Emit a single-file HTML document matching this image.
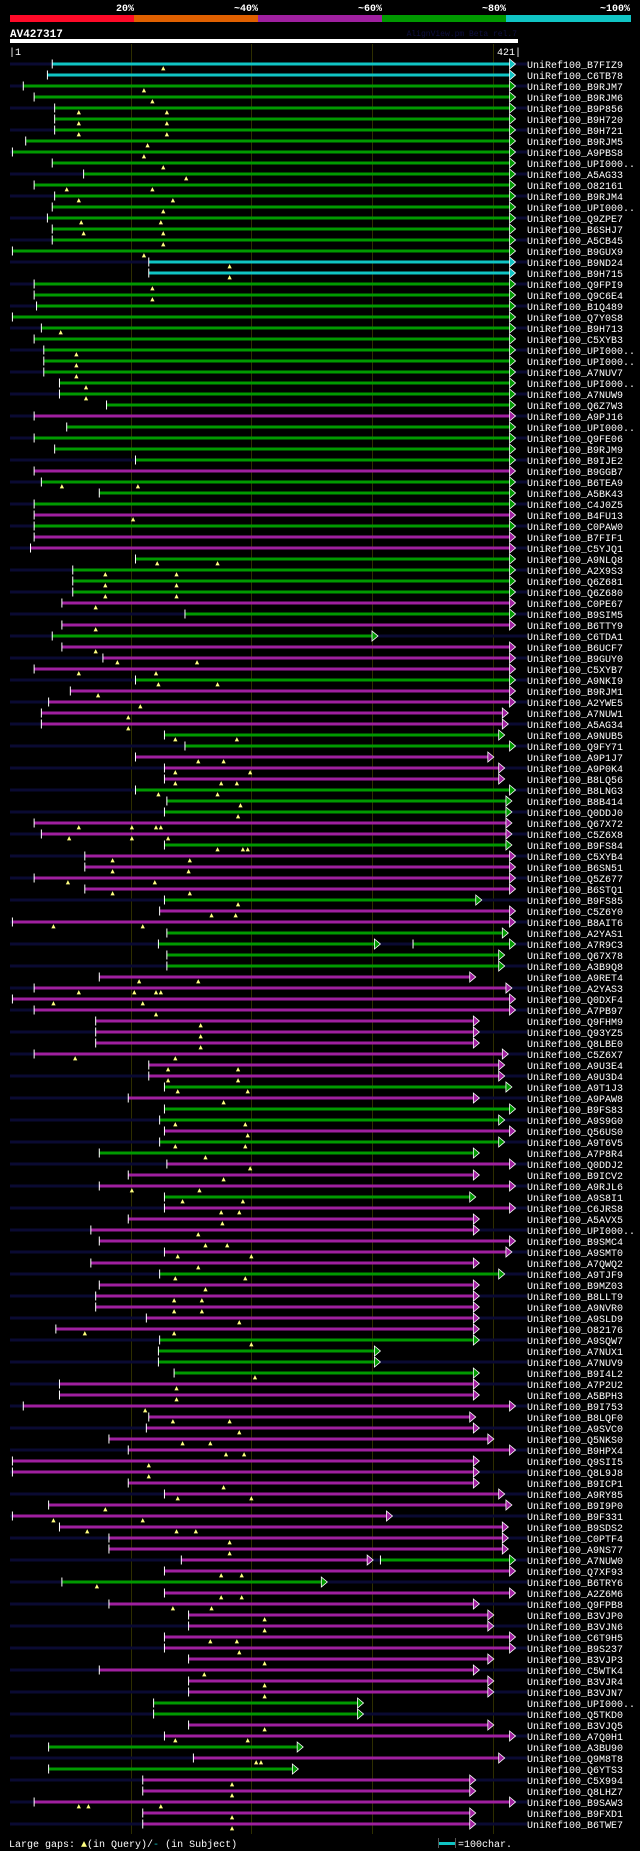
<!DOCTYPE html>
<html><head><meta charset="utf-8">
<style>
html,body{margin:0;padding:0;background:#000;}
body{width:640px;height:1851px;overflow:hidden;}
svg{display:block;font-family:"Liberation Mono","DejaVu Sans Mono",monospace;}
</style></head>
<body>
<svg id="chart" width="640" height="1851" viewBox="0 0 640 1851" xmlns="http://www.w3.org/2000/svg">
  <rect x="0" y="0" width="640" height="1851" fill="#000"/>
  <g>
    <rect x="10" y="15" width="124" height="7" fill="#ff0a28"/>
    <rect x="134" y="15" width="124" height="7" fill="#e06000"/>
    <rect x="258" y="15" width="124" height="7" fill="#a020a0"/>
    <rect x="382" y="15" width="124" height="7" fill="#009900"/>
    <rect x="506" y="15" width="125" height="7" fill="#10c4c4"/>
    <g font-size="10" font-weight="bold" fill="#fff" text-anchor="end">
      <text x="134" y="11">20%</text>
      <text x="258" y="11">~40%</text>
      <text x="382" y="11">~60%</text>
      <text x="506" y="11">~80%</text>
      <text x="630" y="11">~100%</text>
    </g>
  </g>
  <text x="10" y="37" font-size="11" font-weight="bold" fill="#fff">AV427317</text>
  <text x="517" y="36" font-size="8" fill="#101040" text-anchor="end">AlignView.pm Beta rel.7</text>
  <rect x="10" y="39" width="508" height="4" fill="#fff"/>
  <text x="9" y="55" font-size="10" fill="#fff">|1</text>
  <text x="521" y="55" font-size="10" fill="#fff" text-anchor="end">421|</text>
  <g id="grid"></g>
  <g id="rows"></g>
  <g font-size="10" fill="#fff">
    <text x="9" y="1847">Large gaps: <tspan fill="#ffff80">▲</tspan>(in Query)/<tspan fill="#10c4c4">-</tspan> (in Subject)</text>
    <rect x="439" y="1842" width="16" height="3" fill="#10c4c4"/>
    <rect x="438" y="1838" width="1" height="10" fill="#555"/>
    <rect x="455" y="1838" width="1" height="10" fill="#555"/>
    <text x="458" y="1847">=100char.</text>
  </g>
</svg>
<script>
const queryLength = 421;
const gridTicks = [100, 200, 300, 400];
const names = ["B7FIZ9","C6TB78","B9RJM7","B9RJM6","B9P856","B9H720","B9H721","B9RJM5","A9PBS8","UPI000..","A5AG33","O82161","B9RJM4","UPI000..","Q9ZPE7","B6SHJ7","A5CB45","B9GUX9","B9ND24","B9H715","Q9FPI9","Q9C6E4","B1Q489","Q7Y0S8","B9H713","C5XYB3","UPI000..","UPI000..","A7NUV7","UPI000..","A7NUW9","Q6Z7W3","A9PJ16","UPI000..","Q9FE06","B9RJM9","B9IJE2","B9GGB7","B6TEA9","A5BK43","C4J0Z5","B4FU13","C0PAW0","B7FIF1","C5YJQ1","A9NLQ8","A2X9S3","Q6Z681","Q6Z680","C0PE67","B9SIM5","B6TTY9","C6TDA1","B6UCF7","B9GUY0","C5XYB7","A9NKI9","B9RJM1","A2YWE5","A7NUW1","A5AG34","A9NUB5","Q9FY71","A9P1J7","A9P0K4","B8LQ56","B8LNG3","B8B414","Q0DDJ0","Q67X72","C5Z6X8","B9FS84","C5XYB4","B6SN51","Q5Z677","B6STQ1","B9FS85","C5Z6Y0","B8AIT6","A2YAS1","A7R9C3","Q67X78","A3B9Q8","A9RET4","A2YAS3","Q0DXF4","A7PB97","Q9FHM9","Q93YZ5","Q8LBE0","C5Z6X7","A9U3E4","A9U3D4","A9T1J3","A9PAW8","B9FS83","A9S9G0","Q56US0","A9T6V5","A7P8R4","Q0DDJ2","B9ICV2","A9RJL6","A9S8I1","C6JRS8","A5AVX5","UPI000..","B9SMC4","A9SMT0","A7QWQ2","A9TJF9","B9MZ03","B8LLT9","A9NVR0","A9SLD9","O82176","A9SQW7","A7NUX1","A7NUV9","B9I4L2","A7P2U2","A5BPH3","B9I753","B8LQF0","A9SVC0","Q5NKS0","B9HPX4","Q9SII5","Q8L9J8","B9ICP1","A9RY85","B9I9P0","B9F331","B9SDS2","C0PTF4","A9NS77","A7NUW0","Q7XF93","B6TRY6","A2Z6M6","Q9FPB8","B3VJP0","B3VJN6","C6T9H5","B9S237","B3VJP3","C5WTK4","B3VJR4","B3VJN7","UPI000..","Q5TKD0","B3VJQ5","A7Q0H1","A3BU90","Q9M8T8","Q6YTS3","C5X994","Q8LHZ7","B9SAW3","B9FXD1","B6TWE7"];
// identity class per row: c=cyan(100%), g=green(80%), m=magenta(60%)
const classes = [
 "c","c","g","g","g","g","g","g","g","g","g","g","g","g","g","g","g","g","c","c",
 "g","g","g","g","g","g","g","g","g","g","g","g","m","g","g","g","g","m","g","g",
 "g","m","g","m","m","g","g","g","g","m","g","m","g","m",
 "m","m","g","m","m","m","m","g","g","m","m","m","g","g","g","m","m","g",
 "m","m","m","m","g","m","m","g","g","g","g","m","m","m","m","m","m","m",
 "m","m","m","g","m","g","g","m","g","g","m","m","m","g","m","m","m","m",
 "m","m","g","m","m","m","m","m","g","g","g","g","m","m","m","m","m","m",
 "m","m","m","m","m","m","m","m","m","m","m","m","g","m","m","m","m","m",
 "m","m","m","m","m","g","g","m","m","g","m","g","m","m","m","m","m"];
const starts = [35,31,11,20,37,37,37,13,2,35,61,20,37,35,31,35,35,2,115,115,20,20,22,2,26,20,28,28,28,41,41,80,20,47,20,37,104,20,26,74,20,20,20,20,17,104,52,52,52,43,145,43,35,43,
77,20,104,50,32,26,26,128,145,104,128,128,104,130,128,20,26,128,
62,62,20,62,128,124,2,130,123,130,130,74,20,2,20,71,71,71,
20,115,115,128,98,128,124,128,124,74,130,98,74,128,128,98,67,74,
128,67,124,74,71,71,113,38,124,123,123,136,41,41,11,115,113,82,
98,2,2,98,128,32,2,41,82,82,142,128,43,128,82,148,148,128,
128,148,74,148,148,119,119,148,128,32,152,32,110,110,20,110,110];
const ends = [414,414,414,414,414,414,414,414,414,414,414,414,414,414,414,414,414,414,414,414,414,414,414,414,414,414,414,414,414,414,414,414,414,414,414,414,414,414,414,414,414,414,414,414,414,414,414,414,414,414,414,414,300,414,
414,414,414,414,414,408,408,405,414,396,405,405,414,411,411,411,411,411,
414,414,414,414,386,414,414,408,302,405,405,381,411,414,414,384,384,384,
408,405,405,411,384,414,405,414,405,384,414,384,414,381,414,384,384,414,
411,384,405,384,384,384,384,384,384,302,302,384,384,384,414,381,384,396,
414,384,384,384,405,411,312,408,408,408,296,414,258,414,384,396,396,414,
414,396,384,396,396,288,288,396,414,238,405,234,381,381,414,381,381];
const gaps = [[127],[],[111],[118],[57,130],[57,130],[57,130],[114],[111],[127],[146],[47,118],[57,135],[127],[59,125],[61,127],[127],[111],[182],[182],[118],[118],[],[],[42],[],[55],[55],[55],[63],[63],[],[],[],[],[],[],[],[43,106],[],[],[102],[],[],[],[122,172],[79,138],[79,138],[79,138],[71],[],[71],[],[71],
[89,155],[57,121],[123,172],[73],[108],[98],[98],[137,188],[],[156,177],[137,199],[137,175,188],[123,172],[191],[189],[57,101,121,125],[49,101,131],[172,193,197],
[85,149],[85,148],[48,120],[85,149],[189],[167,187],[36,110],[],[],[],[],[107,156],[57,103,121,125],[36,110],[121],[158],[158],[158],
[54,137],[131,189],[131,189],[139,197],[177],[],[137,195],[197],[137,195],[162],[199],[177],[101,157],[143,193],[175,190],[176],[156],[162,180],
[139,200],[156],[137,195],[162],[136,159],[136,159],[190],[62,136],[200],[],[],[203],[138],[138],[112],[135,182],[190],[143,166],
[179,194],[115],[115],[177],[139,200],[79],[36,110],[64,138,154],[182],[182],[],[175,192],[72],[175,192],[135,167],[211],[211],[166,188],
[190],[211],[161],[211],[211],[],[],[211],[137,197],[],[204,208],[],[184],[184],[57,65,125],[184],[184]];
// second aligned segment on the same row: [row index, start, end, class]
const extraSegs = [[80,334,414,"g"],[136,307,414,"g"]];

const X0 = 10, XQ = 518;
function xScale(r){ return X0 + (r / queryLength) * (XQ - X0); }
function rowY(i){ return 64 + i * 11; }
const colorMap = {c:"#10c4c4", g:"#009900", m:"#a020a0"};
const NS = "http://www.w3.org/2000/svg";
function mk(tag, attrs, parent){ const e = document.createElementNS(NS, tag); for (const k in attrs) e.setAttribute(k, attrs[k]); parent.appendChild(e); return e; }

const grid = document.getElementById('grid');
gridTicks.forEach(t => {
  const l = mk('rect', {x: Math.round(xScale(t)), y: 44, width: 1, height: 1790, fill: '#2e2e00'}, grid);
  
  
});

const rowsG = document.getElementById('rows');
function drawSeg(g, s, e, cls, y){
  const x1 = xScale(s), x2 = xScale(e);
  const col = colorMap[cls] || "#a020a0";
  const bar = mk('rect', {x: x1, y: y - 1.5, width: Math.max(0, x2 - x1), height: 3, fill: col}, g);
  
  
  const tick = mk('rect', {x: x1 - 0.5, y: y - 4.5, width: 1, height: 9, fill: '#fff'}, g);
  
  
  const arr = mk('polygon', {points: `${x2},${y-5} ${x2+6},${y} ${x2},${y+5}`, fill: col, stroke: '#fff', 'stroke-width': 0.8}, g);
  
  
}
names.forEach((nm, i) => {
  const y = rowY(i);
  const g = mk('g', {}, rowsG);
  
  
  if (i % 2 === 0) {
    const bg = mk('rect', {x: 10, y: y - 1.5, width: 517, height: 3, fill: '#0a0a32'}, g);
    
    
  }
  drawSeg(g, starts[i], ends[i], classes[i], y);
  extraSegs.forEach(es => { if (es[0] === i) drawSeg(g, es[1], es[2], es[3], y); });
  (gaps[i] || []).forEach(p => {
    const gx = xScale(p);
    const m = mk('polygon', {points: `${gx-1.5},${y+6} ${gx},${y+3} ${gx+1.5},${y+6}`, fill: '#ffff80', stroke: '#ffff80', 'stroke-width': 0.8}, g);
    
    
  });
  const t = mk('text', {x: 527, y: y + 4, 'font-size': 10, fill: '#fff'}, g);
  t.textContent = 'UniRef100_' + nm;
  
  
});
</script>
</body></html>
